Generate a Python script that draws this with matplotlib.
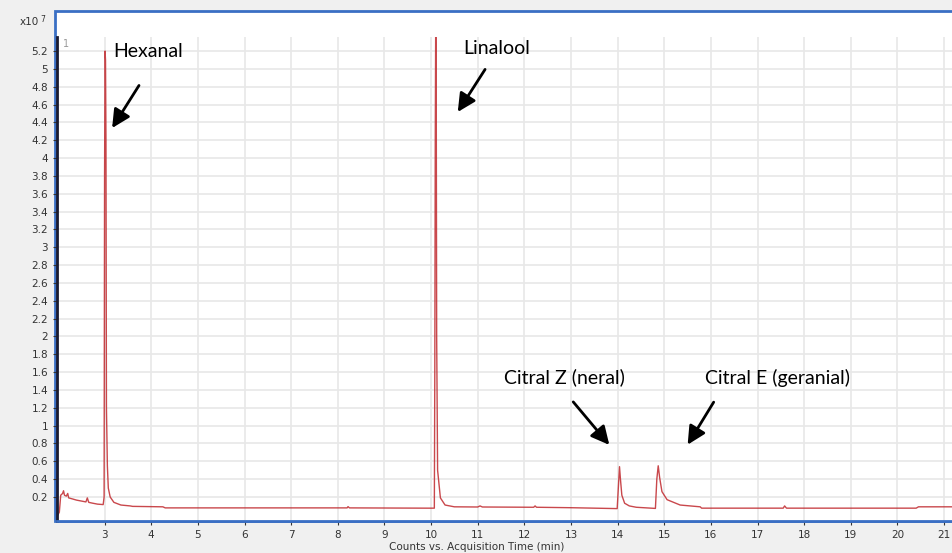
import matplotlib.pyplot as plt
from matplotlib.patches import Rectangle

# Chromatogram trace: acquisition time (min) and counts (x10^7)
time_min = [2.00, 2.03, 2.06, 2.10, 2.12, 2.14, 2.18, 2.21, 2.23, 2.30, 2.40, 2.50,
            2.60, 2.63, 2.66, 2.75, 2.85, 2.97, 2.99, 3.00, 3.01, 3.02, 3.03, 3.04,
            3.06, 3.08, 3.12, 3.20, 3.35, 3.55, 3.60, 4.25, 4.30, 8.20, 8.22, 8.25,
            9.90, 10.07, 10.08, 10.09, 10.10, 10.11, 10.12, 10.14, 10.20, 10.30, 10.50,
            11.00, 11.05, 11.10, 12.20, 12.23, 12.26, 13.00, 13.99, 14.02, 14.04, 14.06,
            14.09, 14.15, 14.25, 14.40, 14.81, 14.84, 14.87, 14.90, 14.95, 15.06, 15.34,
            15.77, 15.80, 17.55, 17.58, 17.62, 20.40, 20.45, 21.20]
counts = [0.00, 0.03, 0.22, 0.24, 0.27, 0.22, 0.21, 0.24, 0.19, 0.18, 0.165, 0.155,
          0.145, 0.19, 0.14, 0.13, 0.12, 0.115, 0.20, 3.80, 5.20, 5.10, 4.20, 1.20,
          0.55, 0.30, 0.20, 0.14, 0.11, 0.10, 0.095, 0.09, 0.078, 0.078, 0.092, 0.078,
          0.075, 0.075, 1.60, 4.20, 5.60, 5.00, 2.00, 0.50, 0.19, 0.11, 0.09,
          0.088, 0.10, 0.088, 0.085, 0.10, 0.085, 0.08, 0.07, 0.35, 0.54, 0.40,
          0.22, 0.13, 0.10, 0.085, 0.072, 0.40, 0.55, 0.42, 0.26, 0.17, 0.11,
          0.09, 0.075, 0.075, 0.10, 0.075, 0.075, 0.09, 0.09]

# Annotated compounds: label, text position, arrow tail, arrow head
peak_names = ['Hexanal', 'Linalool', 'Citral Z (neral)', 'Citral E (geranial)']
text_xy = [(3.19, 5.2), (10.69, 5.23), (11.57, 1.545), (15.88, 1.53)]
arrow_from = [(3.77, 4.84), (11.19, 5.02), (13.01, 1.29), (16.09, 1.29)]
arrow_to = [(3.13, 4.31), (10.54, 4.49), (13.86, 0.76), (15.47, 0.76)]

x_ticks = list(range(3, 22))
y_ticks = [round(0.2 * i, 1) for i in range(1, 27)]

fig = plt.figure(figsize=(9.53, 5.53), dpi=100, facecolor='#f0f0f0')

# white panel with blue frame behind the axes
W, H = 953, 553
panel = Rectangle((55 / W, 1 - 521 / H), 1 - 55 / W + 0.01, (521 - 11) / H,
                  transform=fig.transFigure, facecolor='white',
                  edgecolor='#3a6fc4', linewidth=2, zorder=-1)
fig.patches.append(panel)

ax = fig.add_axes([57 / W, 1 - 521 / H, 1 - 57 / W, (521 - 37) / H])
ax.set_zorder(1)
ax.set_facecolor('white')
ax.plot(time_min, counts, color='#c0282d', linewidth=1, alpha=0.85)

ax.set_xlim(1.98, 21.19)
ax.set_ylim(-0.069, 5.357)
ax.set_xticks(x_ticks)
ax.set_yticks(y_ticks)
ax.set_yticklabels([('%g' % v) for v in y_ticks])
ax.grid(True, color='#e8e8e8', linewidth=1.2)
ax.set_axisbelow(True)

for s in ['top', 'right']:
    ax.spines[s].set_visible(False)
ax.spines['left'].set_color('#1a1a2e')
ax.spines['left'].set_linewidth(2)
ax.spines['bottom'].set_color('#3a6fc4')
ax.spines['bottom'].set_linewidth(2)
ax.tick_params(axis='both', labelsize=7.5, labelcolor='#333333', color='#333333',
               length=3, width=0.8)

fig.text(0.5, 0.002, 'Counts vs. Acquisition Time (min)', ha='center', va='bottom',
         fontsize=7.5, color='#333333')
fig.text(20 / W, 1 - 22 / H, 'x10', fontsize=7.5, color='#333333', va='center')
fig.text(40 / W, 1 - 19 / H, '7', fontsize=5.5, color='#333333', va='center')
ax.text(2.1, 5.28, '1', fontsize=7, color='#999999', va='center')

for name, txy, a0, a1 in zip(peak_names, text_xy, arrow_from, arrow_to):
    ax.text(txy[0], txy[1], name, fontsize=14, family='Lato', va='center', ha='left')
    ax.annotate('', xy=a1, xytext=a0,
                arrowprops=dict(arrowstyle='-|>,head_length=1.1,head_width=0.55',
                                color='black', linewidth=2))

fig.savefig('out.png', dpi=100, facecolor=fig.get_facecolor())
